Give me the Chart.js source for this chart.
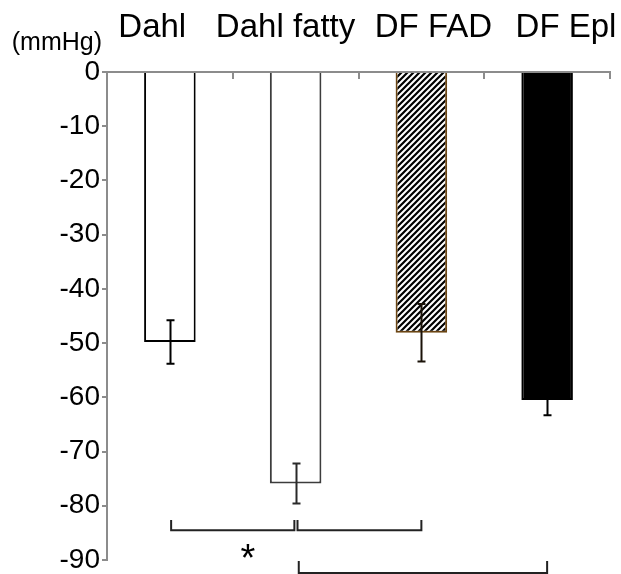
<!DOCTYPE html>
<html><head><meta charset="utf-8">
<script src="https://cdn.jsdelivr.net/npm/chart.js@4.4.0/dist/chart.umd.min.js"></script>
<style>html,body{margin:0;padding:0;background:#fff;}canvas{display:block;}</style>
</head><body>
<canvas id="c" width="621" height="574"></canvas>
<script>
// ---- data ----
const categories = ['Dahl', 'Dahl fatty', 'DF FAD', 'DF Epl'];
const values = [-49.8, -75.9, -48.1, -60.5];
const errors = [4.0, 3.7, 5.3, 2.8];
const yMin = -90, yMax = 0, yStep = 10;
const headerPositions = [-0.14, 0.92, 2.096, 3.15]; // category units of header labels
const unitLabel = '(mmHg)';
const bracketFrom = [0.01, 1.015, 1.025];
const bracketTo = [0.99, 2.0, 3.0];
const bracketLevel = [-84.5, -84.5, -92.4];
const bracketTip = [-82.6, -82.6, -90.2];
const starLabel = '*';
const starPos = [0.62, -88];

const FONT = "'Liberation Sans', Arial, sans-serif";
const AXIS = '#8c8c8c';

function hatch() {
  const s = 6;
  const c = document.createElement('canvas');
  c.width = s; c.height = s;
  const g = c.getContext('2d');
  g.fillStyle = '#fff'; g.fillRect(0, 0, s, s);
  g.strokeStyle = '#000'; g.lineWidth = 2.2;
  g.beginPath();
  g.moveTo(-1, 1); g.lineTo(1, -1);
  g.moveTo(0, s); g.lineTo(s, 0);
  g.moveTo(s - 1, s + 1); g.lineTo(s + 1, s - 1);
  g.stroke();
  return document.getElementById('c').getContext('2d').createPattern(c, 'repeat');
}

const errColors = ['#000', '#2a2a2a', '#1a1208', '#000'];

const overlay = {
  id: 'overlay',
  afterDatasetsDraw(chart) {
    const { ctx, scales: { x, y } } = chart;
    const meta = chart.getDatasetMeta(0);
    ctx.save();
    ctx.lineWidth = 2;
    meta.data.forEach((bar, i) => {
      const cx = Math.round(bar.x) + 0.5;
      const t = y.getPixelForValue(values[i] + errors[i]);
      const b = y.getPixelForValue(values[i] - errors[i]);
      ctx.strokeStyle = errColors[i];
      ctx.beginPath();
      ctx.moveTo(cx, t); ctx.lineTo(cx, b);
      ctx.moveTo(cx - 4, t); ctx.lineTo(cx + 4, t);
      ctx.moveTo(cx - 4, b); ctx.lineTo(cx + 4, b);
      ctx.stroke();
    });
    // brackets
    ctx.strokeStyle = '#222';
    ctx.lineWidth = 2;
    const cw = x.getPixelForValue(1) - x.getPixelForValue(0);
    const px = v => x.getPixelForValue(0) + v * cw;
    bracketFrom.forEach((f, i) => {
      const x1 = px(f), x2 = px(bracketTo[i]);
      const yl = y.getPixelForValue(bracketLevel[i]);
      const yt = y.getPixelForValue(bracketTip[i]);
      ctx.beginPath();
      ctx.moveTo(x1, yt); ctx.lineTo(x1, yl); ctx.lineTo(x2, yl); ctx.lineTo(x2, yt);
      ctx.stroke();
    });
    // star
    const ss = 38;
    ctx.fillStyle = '#000';
    ctx.font = ss + 'px ' + FONT;
    ctx.textAlign = 'center';
    ctx.textBaseline = 'alphabetic';
    ctx.fillText(starLabel, px(starPos[0]), y.getPixelForValue(starPos[1]) + 0.57 * ss);
    // unit label
    ctx.font = '25px ' + FONT;
    ctx.textAlign = 'right';
    ctx.fillText(unitLabel, y.right - 5, chart.chartArea.top - 22);
    ctx.restore();
  }
};

new Chart(document.getElementById('c'), {
  type: 'bar',
  data: {
    labels: categories,
    datasets: [{
      data: values,
      backgroundColor: ['#fff', '#fff', hatch(), '#000'],
      borderColor: ['#000', '#3c3c3c', '#6b4513', '#000'],
      borderWidth: 2,
      borderSkipped: 'start',
      barPercentage: 0.41,
      categoryPercentage: 1
    }]
  },
  options: {
    responsive: false,
    animation: false,
    layout: { padding: { left: 0, right: 11, top: 0, bottom: 14 } },
    plugins: { legend: { display: false }, tooltip: { enabled: false } },
    scales: {
      x: {
        type: 'category', position: 'top', offset: true,
        grid: { offset: true, drawOnChartArea: false, drawTicks: true, tickLength: -7, color: AXIS, lineWidth: 2 },
        border: { display: true, color: AXIS, width: 2 },
        ticks: { display: false },
        afterFit(s) { s.height = 0; s.paddingLeft = 0; s.paddingRight = 0; }
      },
      xl: {
        type: 'linear', position: 'top', min: -0.5, max: 3.5, offset: false,
        grid: { display: false, drawTicks: false, offset: false },
        border: { display: false },
        afterBuildTicks(s) { s.ticks = headerPositions.map(v => ({ value: v })); },
        ticks: {
          autoSkip: false, maxRotation: 0, padding: 24, color: '#000',
          font: { family: FONT, size: 33 },
          callback: (v, i) => categories[i]
        },
        afterFit(s) { s.height = 72; s.paddingLeft = 0; s.paddingRight = 0; }
      },
      y: {
        min: yMin, max: yMax,
        ticks: { stepSize: yStep, color: '#000', padding: 2, font: { family: FONT, size: 28 } },
        grid: { drawOnChartArea: false, tickLength: 5, color: AXIS, lineWidth: 2 },
        border: { color: AXIS, width: 2 },
        afterFit(s) { s.width = 107; s.paddingTop = 0; s.paddingBottom = 0; }
      }
    }
  },
  plugins: [overlay]
});
</script>
</body></html>
